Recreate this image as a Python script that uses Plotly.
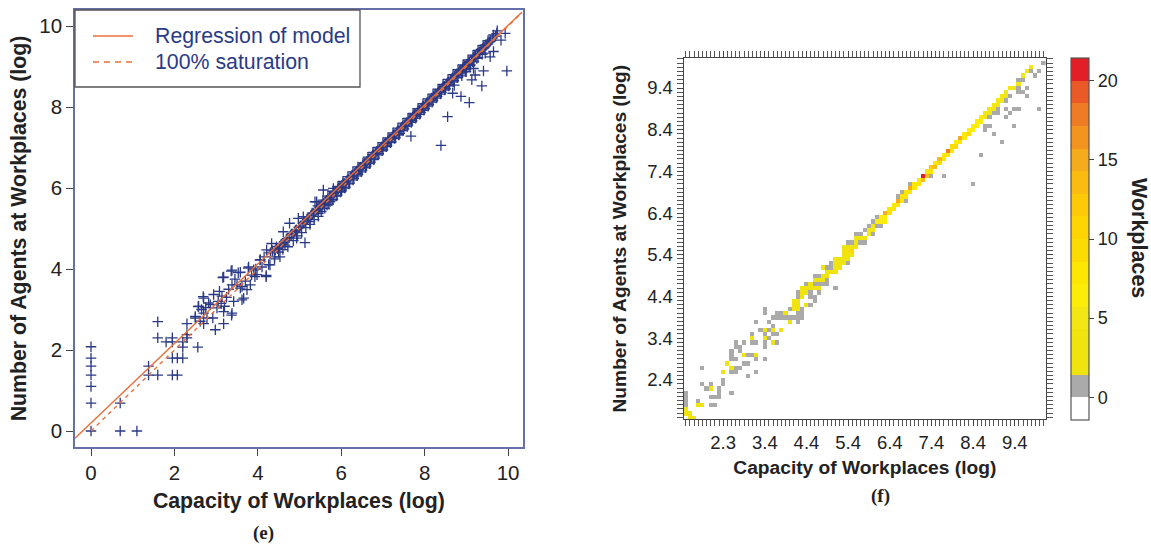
import plotly.graph_objects as go

W, H = 1151, 545

# ---------- panel (e): scatter data ----------
sparse_points = [
    (0,2.08),(0,1.8),(0,1.6),(0,1.38),(0,1.1),(0,0.69),(0,0),(0.7,0.69),(0.7,0),(1.1,0),
    (1.38,1.6),(1.38,1.38),(1.6,1.38),(1.95,1.38),(2.07,1.38),(1.6,2.7),(1.6,2.3),(1.8,2.2),
    (1.95,2.3),(1.95,2.2),(1.95,1.8),(2.07,1.8),(2.2,1.8),(2.2,2.07),(2.2,2.2),(2.3,2.3),
    (2.3,2.65),(2.3,2.38),(2.56,2.07),(2.5,2.83),(2.58,3.08),(2.7,3.28),(2.7,2.91),(2.7,2.65),
    (2.82,3.16),(2.86,3.12),(2.98,2.5),(3.18,2.65),(3.18,2.95),(3.18,3.8),(3.38,3.97),(3.38,2.91),
    (3.08,3.45),(2.94,3.37),(2.78,2.79),(2.92,2.79),(2.5,2.79),(2.62,2.71),(3.02,3.04),(3.14,3.33),
    (3.2,3.08),(3.42,3.2),(3.62,3.24),(3.66,3.28),(3.38,3.61),(3.5,3.61),(3.58,3.53),(3.74,3.49),
    (3.62,3.57),(3.58,3.92),(3.78,4.05),(3.9,3.98),(3.98,3.86),(4.2,3.84),(3.82,3.61),(4.06,4.23),
    (4.26,4.11),(4.3,4.4),(3.16,3.79),(3.36,3.95),(3.53,3.91),(3.77,4.02),(3.93,3.81),(4.2,3.81),
    (4.29,4.1),(4.05,4.22),(4.21,4.47),(4.33,4.63),(4.53,4.3),(4.65,4.59),(5.13,4.65),(4.61,4.92),
    (4.76,5.13),(4.93,4.76),(5.09,5.29),(4.97,5.25),(5.25,5.17),(5.37,5.66),(5.41,5.66),(5.45,5.37),
    (3.37,2.86),(2.69,3.32),(2.57,3.07),(3.05,3.2),(3.3,3.5),(3.45,3.75),(3.7,3.7),(3.85,3.85),
    (2.75,3.05),(2.65,3.0),(3.12,3.15),(3.25,3.3),(3.95,4.0),(4.1,4.05),(4.15,4.3),(4.4,4.25),
    (5.57,5.95),(5.73,5.66),(5.81,5.99),(6.01,5.95),(6.37,6.36),
    (9.97,8.89),(9.41,8.89),(9.37,8.52),(9.93,9.82),(9.83,9.65),(9.74,9.88),(9.65,9.37),(9.57,9.24),
    (9.45,9.33),(9.13,8.67),(9.21,8.79),(8.99,8.87),(9.17,8.95),(9.15,9.12),(8.89,8.77),(8.71,8.54),
    (8.67,8.34),(8.87,8.26),(9.07,8.11),(8.55,7.76),(8.39,7.05),(7.67,7.28),(7.38,7.31),(9.25,9.2),
    (9.73,9.82),(9.57,9.65),(9.65,9.78),
]
band_points = [
    (4.35,4.45),(4.4,4.3),(4.45,4.55),(4.5,4.42),(4.55,4.6),(4.6,4.48),(4.68,4.72),(4.72,4.55),
    (4.8,4.85),(4.85,4.7),(4.9,4.95),(4.95,4.82),(5.0,5.02),(5.05,4.9),(5.1,5.15),(5.15,5.02),
    (5.2,5.25),(5.25,5.1),(5.3,5.38),(5.35,5.22),(5.4,5.45),(5.45,5.3),(5.5,5.55),(5.52,5.42),
    (5.58,5.62),(5.6,5.5),(5.65,5.7),(5.7,5.6),(5.75,5.8),(5.8,5.72),(5.85,5.9),(5.9,5.82),
    (5.95,6.0),(6.0,5.92),(6.05,6.1),(6.1,6.02),(6.15,6.2),(6.2,6.12),(6.25,6.3),(6.3,6.24),
    (6.35,6.4),(6.4,6.34),(6.45,6.5),(6.5,6.44),(6.55,6.6),(6.6,6.54),(6.65,6.7),(6.7,6.64),
    (6.75,6.82),(6.8,6.74),(6.85,6.9),(6.9,6.85),(6.95,7.0),(7.0,6.94),(7.05,7.1),(7.1,7.05),
    (7.15,7.2),(7.2,7.14),(7.25,7.3),(7.3,7.24),(7.35,7.4),(7.4,7.35),(7.45,7.5),(7.5,7.46),
    (7.55,7.6),(7.6,7.56),(7.65,7.7),(7.7,7.66),(7.75,7.8),(7.8,7.76),(7.85,7.9),(7.9,7.86),
    (7.95,8.0),(8.0,7.96),(8.05,8.1),(8.1,8.06),(8.15,8.2),(8.2,8.16),(8.25,8.3),(8.3,8.26),
    (8.35,8.4),(8.4,8.36),(8.45,8.5),(8.5,8.45),(8.55,8.6),(8.6,8.55),(8.65,8.7),(8.7,8.65),
    (8.75,8.8),(8.8,8.74),(8.85,8.9),(8.9,8.85),(8.95,9.0),(9.0,8.95),(9.05,9.1),(9.1,9.04),
    (9.2,9.25),(9.3,9.32),(9.35,9.42),(9.42,9.48),(9.5,9.55),(9.55,9.6),(9.62,9.7),(9.7,9.75),
]
band_fill_points = [
    (4.42,4.47),(4.47,4.5),(4.52,4.56),(4.58,4.62),(4.63,4.66),(4.7,4.75),(4.75,4.78),(4.82,4.87),
    (4.88,4.92),(4.92,4.97),(4.98,5.03),(5.03,5.06),(5.08,5.12),(5.13,5.18),(5.18,5.22),(5.23,5.27),
    (5.28,5.33),(5.33,5.38),(5.38,5.42),(5.43,5.47),(5.48,5.52),(5.53,5.58),(5.56,5.6),(5.61,5.65),
    (5.63,5.68),(5.68,5.72),(5.72,5.77),(5.77,5.8),(5.82,5.86),(5.87,5.91),(5.92,5.96),(5.97,6.02),
    (6.02,6.07),(6.07,6.12),(6.12,6.16),(6.17,6.21),(6.22,6.27),(6.27,6.32),(6.32,6.36),(6.37,6.42),
    (6.42,6.46),(6.47,6.52),(6.52,6.56),(6.57,6.62),(6.62,6.66),(6.67,6.72),(6.72,6.76),(6.77,6.82),
    (6.82,6.86),(6.87,6.92),(6.92,6.96),(6.97,7.02),(7.02,7.06),(7.07,7.12),(7.12,7.16),(7.17,7.22),
    (7.22,7.26),(7.27,7.32),(7.32,7.36),(7.37,7.42),(7.42,7.46),(7.47,7.52),(7.52,7.56),(7.57,7.62),
    (7.62,7.66),(7.67,7.72),(7.72,7.76),(7.77,7.82),(7.82,7.86),(7.87,7.92),(7.92,7.96),(7.97,8.02),
    (8.02,8.06),(8.07,8.12),(8.12,8.16),(8.17,8.22),(8.22,8.26),(8.27,8.32),(8.32,8.36),(8.37,8.42),
    (8.42,8.46),(8.47,8.52),(8.52,8.56),(8.57,8.62),(8.62,8.66),(8.67,8.72),(8.72,8.76),(8.77,8.82),
    (8.82,8.86),(8.87,8.92),(8.92,8.96),(8.97,9.02),(9.02,9.06),(9.07,9.12),(9.12,9.16),(9.17,9.22),
    (9.22,9.26),(9.27,9.32),(9.32,9.36),(9.37,9.42),(9.42,9.46),(9.47,9.52),(9.52,9.56),(9.57,9.62),
    (5.54,5.49),(5.66,5.58),(5.78,5.7),(5.88,5.8),(5.98,5.9),(6.08,6.0),(6.18,6.1),(6.28,6.2),
    (6.38,6.3),(6.48,6.4),(6.58,6.5),(6.68,6.6),(6.78,6.7),(6.88,6.82),(6.98,6.92),(7.08,7.02),
    (7.18,7.12),(7.28,7.22),(7.38,7.32),(7.48,7.42),(7.58,7.52),(7.68,7.62),(7.78,7.72),(7.88,7.82),
    (7.98,7.92),(8.08,8.02),(8.18,8.12),(8.28,8.22),(8.38,8.32),(8.48,8.42),(8.58,8.52),(8.68,8.62),
    (8.78,8.72),(8.88,8.82),(8.98,8.92),(9.08,9.02),(9.18,9.12),(9.28,9.22),(9.38,9.3),
    (5.44,5.56),(5.56,5.7),(5.68,5.8),(5.8,5.92),(5.92,6.04),(6.04,6.16),(6.16,6.28),(6.28,6.4),
    (6.4,6.52),(6.52,6.62),(6.64,6.76),(6.76,6.88),(6.88,7.0),(7.0,7.12),(7.12,7.24),(7.24,7.36),
    (7.36,7.48),(7.48,7.6),(7.6,7.72),(7.72,7.84),(7.84,7.96),(7.96,8.08),(8.08,8.2),(8.2,8.32),
    (8.32,8.44),(8.44,8.56),(8.56,8.68),(8.68,8.8),(8.8,8.92),(8.92,9.04),(9.04,9.16),(9.16,9.28),
    (9.28,9.4),(9.4,9.52),(9.52,9.64),
]
regression_x = [-0.384, 10.33]
regression_y = [-0.18, 10.34]
saturation_x = [0, 10.33]
saturation_y = [0, 10.33]

# ---------- panel (f): heatmap data (bin column, bin row, workplaces) ----------
gray_cells = [
    (0,3),(0,4),(0,5),(0,6),(3,4),(6,3),(7,3),(11,6),(6,5),(7,5),(8,5),(8,6),(8,7),(9,8),(9,9),(4,8),(5,7),(6,8),
    (4,12),(15,10),(11,11),(12,11),(12,12),(13,12),(11,14),(12,14),(14,13),(15,13),(17,11),(17,14),(19,14),
    (11,15),(11,16),(12,17),(12,18),(13,16),(13,17),(15,15),(16,15),(14,18),(16,18),(17,18),(16,20),(17,23),
    (18,21),(19,20),(19,17),(19,18),(20,21),(20,19),(21,20),(22,20),(21,22),(20,23),(21,24),(22,24),(23,24),
    (24,24),(19,25),(19,26),(22,25),(23,25),(22,18),(27,23),(25,24),(26,24),(27,24),(28,24),(27,25),(28,25),
    (28,26),(25,26),(30,27),(27,29),(27,30),(29,32),(31,29),(30,30),(30,29),(32,30),(36,31),(31,28),(31,32),
    (32,32),(33,32),(34,32),(34,33),(31,34),(32,34),(35,36),(34,36),(35,37),(39,37),(39,42),(40,42),(42,42),
    (43,42),(41,44),(42,44),(45,44),(44,46),(46,46),(47,46),(43,45),(45,47),(46,48),(51,53),(52,54),(53,52),
    (54,56),(59,58),(62,58),(69,56),(71,63),(76,66),(74,68),(72,69),(72,70),(73,70),(79,70),(73,72),(77,72),
    (78,73),(74,73),(75,73),(77,74),(79,74),(80,74),(85,74),(75,74),(77,76),(78,77),(82,77),(80,78),(81,78),
    (80,79),(82,79),(80,81),(81,81),(84,82),(83,83),(85,83),(86,85),
]
hot_cells = [
    (0,1,4),(0,2,4),(1,1,4),(1,0,4),(2,0,4),(3,3,4),(4,3,4),(6,7,4),(9,11,4),(11,12,4),(10,13,4),(14,15,4),
    (17,15,4),(16,19,4),(19,21,4),(19,19,4),(21,21,4),(21,18,4),(23,21,4),(24,25,4),(25,23,4),
    (26,26,4),(27,26,4),(26,27,4),(27,27,4),(26,28,4),(27,28,4),(29,27,4),(28,29,4),(28,30,4),(29,30,4),
    (28,31,4),(29,31,4),(30,31,4),(31,31,4),(32,31,4),(30,32,4),(31,33,4),(32,33,4),(33,33,4),(33,34,4),(34,34,4),
    (34,35,4),(35,35,4),(36,35,4),(33,36,4),(36,36,4),(37,36,4),(36,37,4),(37,37,4),(38,37,4),
    (36,38,4),(37,38,4),(38,38,4),(39,38,4),(38,39,4),(39,39,4),(40,39,4),(38,40,4),(39,40,4),(40,40,10),
    (38,41,4),(39,41,4),(40,41,4),(41,41,4),(41,42,4),(41,43,4),(42,43,4),(43,43,4),(44,44,5),(44,45,5),(45,45,5),
    (45,46,5),(46,47,7),(47,47,7),(48,47,7),(47,48,7),(48,48,7),(48,49,15),(49,49,8),(49,50,8),(50,50,8),
    (50,51,8),(51,51,8),(51,52,15),(52,52,8),(52,53,8),(53,53,8),(53,54,8),(54,54,8),(54,55,15),(55,55,8),
    (55,56,8),(56,56,8),(56,57,8),(57,57,14),(57,58,21),(58,58,13),(58,59,8),(59,59,8),(59,60,12),(60,60,14),
    (60,61,8),(61,61,9),(61,62,13),(62,62,8),(62,63,8),(63,63,8),(63,64,18),(64,64,8),(64,65,9),(65,65,9),
    (65,66,7),(66,66,8),(66,67,15),(67,67,8),(67,68,8),(68,68,9),(68,69,6),(69,69,7),(69,70,7),(70,70,6),
    (70,71,7),(71,71,6),(71,72,6),(72,72,5),(72,73,5),(73,73,5),(73,74,5),(74,74,5),(74,75,5),(75,75,5),
    (75,76,5),(76,76,5),(76,77,5),(77,77,5),(77,78,5),(78,79,5),(79,79,5),(80,80,5),(81,82,5),(82,83,5),(83,84,5),
]
n_bins = 87
x_tick_bins = [9, 19, 29, 39, 49, 59, 69, 79]
x_tick_labels = ["2.3", "3.4", "4.4", "5.4", "6.4", "7.4", "8.4", "9.4"]
y_tick_bins = [9, 19, 29, 39, 49, 59, 69, 79]
y_tick_labels = ["2.4", "3.4", "4.4", "5.4", "6.4", "7.4", "8.4", "9.4"]
bar_colors = ["#ffffff", "#aaaaaa", "#efe310", "#efe310", "#f2e614", "#fbec0a", "#fde600", "#fcdc00",
              "#fed500", "#fdc908", "#fbbb10", "#f6ab1c", "#f39420", "#ef7b25", "#ea5a27", "#e21f26"]
z_low, z_high = -1.43, 21.43
legend_labels = ["Regression of model", "100% saturation"]

# ---------- build ----------
z = [[None] * n_bins for _ in range(n_bins)]
for c, r in gray_cells:
    z[r][c] = 1
for c, r, v in hot_cells:
    z[r][c] = v
scale = []
for i, col in enumerate(bar_colors):
    scale += [[i / len(bar_colors), col], [(i + 1) / len(bar_colors), col]]

FONT = "Liberation Sans"
NAVY = "#2b3a86"
ORANGE = "#e8703a"
pts = sparse_points + band_points + band_fill_points

fig = go.Figure()
fig.add_trace(go.Scatter(
    x=[p[0] for p in pts], y=[p[1] for p in pts], mode="markers", showlegend=False,
    marker=dict(symbol="cross-thin", size=7.5, line=dict(width=1.3, color=NAVY), color=NAVY),
))
fig.add_trace(go.Scatter(x=regression_x, y=regression_y, mode="lines", name=legend_labels[0], showlegend=False,
                         line=dict(color=ORANGE, width=1.4)))
fig.add_trace(go.Scatter(x=saturation_x, y=saturation_y, mode="lines", name=legend_labels[1], showlegend=False,
                         line=dict(color=ORANGE, width=1.4, dash="4px,4px")))
fig.add_trace(go.Heatmap(
    z=z, x=list(range(n_bins)), y=list(range(n_bins)), xaxis="x2", yaxis="y2", showscale=True,
    zmin=z_low, zmax=z_high, colorscale=scale, hoverongaps=False,
    colorbar=dict(x=1071 / W, xanchor="left", xpad=0, y=1 - 239 / H, yanchor="middle", ypad=0,
                  len=362 / H, lenmode="fraction", thickness=18, thicknessmode="pixels",
                  outlinecolor="#555555", outlinewidth=1.2, tickmode="array",
                  tickvals=[0, 5, 10, 15, 20], ticktext=["0", "5", "10", "15", "20"],
                  ticks="outside", ticklen=5, tickcolor="#444444", tickfont=dict(family=FONT, size=18, color="#222222")),
))

axis_e = dict(showgrid=False, zeroline=False, showline=True, mirror=True, linecolor="#666fa8", linewidth=1.5,
              ticks="outside", ticklen=7, tickcolor="#444444", tickwidth=1,
              tickvals=[0, 2, 4, 6, 8, 10], tickfont=dict(family=FONT, size=20.5, color="#222222"))
axis_f = dict(showgrid=False, zeroline=False, showline=True, mirror="allticks", linecolor="#444444", linewidth=1,
              ticks="outside", ticklen=6, tickcolor="#444444", tickwidth=1, tickmode="array",
              tickfont=dict(family=FONT, size=18.5, color="#222222"),
              minor=dict(ticks="outside", dtick=1, tick0=0, ticklen=6, tickcolor="#555555", tickwidth=1, showgrid=False))
title_font = dict(family=FONT, size=21.3, color="#222222", weight="bold")
title_font_f = dict(family=FONT, size=19.2, color="#222222", weight="bold")


def note(text, x, y, size, family=FONT, color="#222222", angle=0, xanchor="center"):
    return dict(text=text, xref="paper", yref="paper", x=x / W, y=1 - y / H, showarrow=False, textangle=angle,
                xanchor=xanchor, yanchor="middle", font=dict(family=family, size=size, color=color))


def key_line(y, dash):
    return dict(type="line", xref="paper", yref="paper", x0=93 / W, x1=133 / W, y0=1 - y / H, y1=1 - y / H,
                line=dict(color=ORANGE, width=1.6, dash=dash))


fig.update_layout(
    width=W, height=H, autosize=False, margin=dict(l=0, r=0, t=0, b=0), showlegend=False,
    paper_bgcolor="white", plot_bgcolor="white", font=dict(family=FONT),
    xaxis=dict(axis_e, domain=[75 / W, 522.7 / W], range=[-0.384, 10.35], anchor="y",
               title=dict(text="Capacity of Workplaces (log)", font=title_font, standoff=10)),
    yaxis=dict(axis_e, domain=[1 - 447 / H, 1 - 10 / H], range=[-0.395, 10.395], anchor="x",
               title=dict(text="Number of Agents at Workplaces (log)", font=title_font, standoff=7)),
    xaxis2=dict(axis_f, domain=[683.6 / W, 1046 / W], range=[-0.5, 86.5], anchor="y2",
                tickvals=x_tick_bins, ticktext=x_tick_labels,
                title=dict(text="Capacity of Workplaces (log)", font=title_font_f, standoff=8)),
    yaxis2=dict(axis_f, domain=[1 - 419.4 / H, 1 - 58 / H], range=[-0.5, 86.2], anchor="x2",
                tickvals=y_tick_bins, ticktext=y_tick_labels,
                title=dict(text="Number of Agents at Workplaces (log)", font=title_font_f, standoff=15)),
    shapes=[dict(type="rect", xref="paper", yref="paper", x0=75 / W, x1=360 / W, y0=1 - 87 / H, y1=1 - 10 / H,
                 line=dict(color="#555555", width=1.3), fillcolor="rgba(0,0,0,0)"),
            key_line(36, "solid"), key_line(62, "6px,5px")],
    annotations=[
        note(legend_labels[0], 153, 36, 21.3, color=NAVY, xanchor="left"),
        note(legend_labels[1], 153, 62, 21.3, color=NAVY, xanchor="left"),
        note("<b>(e)</b>", 263, 533, 19, family="Liberation Serif"),
        note("<b>(f)</b>", 880, 496, 19, family="Liberation Serif"),
        note("<b>Workplaces</b>", 1139, 238, 21.5, angle=90),
    ],
)
fig.write_html("out.html", post_script="document.body.style.margin='0';", config={"displayModeBar": False})
